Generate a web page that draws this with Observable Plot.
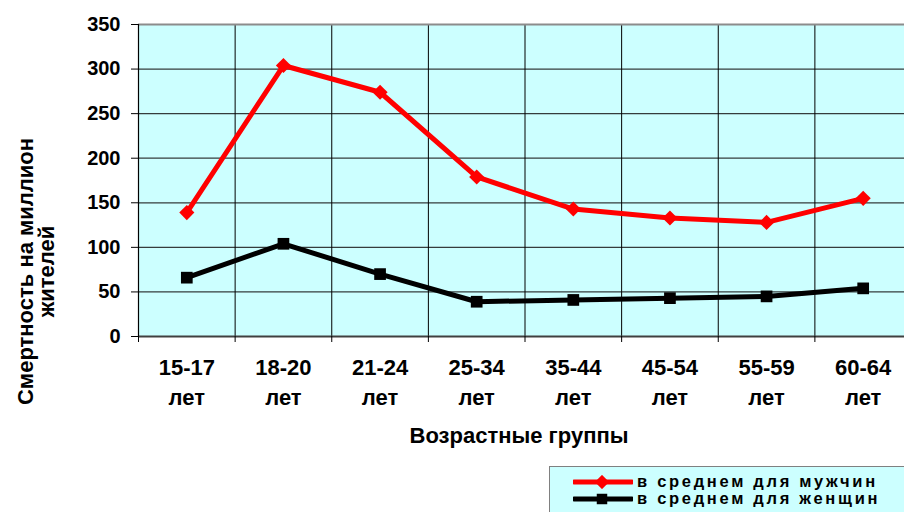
<!DOCTYPE html>
<html lang="ru">
<head>
<meta charset="utf-8">
<script src="https://cdn.jsdelivr.net/npm/d3@7"></script>
<script src="https://cdn.jsdelivr.net/npm/@observablehq/plot@0.6"></script>
<style>
  html, body { margin: 0; padding: 0; background: #fff; overflow: hidden; }
  body { width: 904px; height: 512px; font-family: Arial, "Liberation Sans", sans-serif; }
  #chart svg { display: block; }
  #legend {
    margin-left: 549px;
    margin-top: 2px;
    width: 380px;
    height: 60px;
    box-sizing: border-box;
    background: #ccffff;
    border: 1px solid #808080;
    padding: 6px 0 0 23px;
  }
  .item { display: flex; align-items: center; height: 17px; line-height: 17px; font-weight: bold; font-size: 16.5px; letter-spacing: 2.7px; color: #000; }
  .item svg { margin-right: 4px; flex: none; }
</style>
</head>
<body>
<div id="chart"></div>
<div id="legend"></div>
<script>
// Age groups and mortality per million residents
const ageGroups = ["15-17", "18-20", "21-24", "25-34", "35-44", "45-54", "55-59", "60-64"];
const ageUnit = "лет";
const menValues = [139, 304, 274, 179, 143, 133, 128, 155];
const womenValues = [66, 104, 70, 39, 41, 43, 45, 54];
const yTicks = [0, 50, 100, 150, 200, 250, 300, 350];
const seriesNames = ["в среднем для мужчин", "в среднем для женщин"];
const seriesColors = ["#ff0000", "#000000"];
const seriesSymbols = ["diamond2", "square"];

// Each group sits in the middle of its slot on a 0..N axis
const centers = ageGroups.map((_, i) => i + 0.5);
const bounds = d3.range(0, ageGroups.length + 1);
const rows = (values) => values.map((v, i) => ({x: i + 0.5, y: v}));
const men = rows(menValues);
const women = rows(womenValues);

const font = 'Arial, "Liberation Sans", sans-serif';

const chart = Plot.plot({
  width: 912,
  height: 464,
  marginLeft: 138,
  marginRight: 1,
  marginTop: 24,
  marginBottom: 128,
  style: {fontFamily: font, fontSize: "20px", fontWeight: "bold", color: "#000", maxWidth: "none", overflow: "visible"},
  x: {domain: [0, ageGroups.length], axis: null},
  y: {domain: [0, 350], axis: null},
  marks: [
    Plot.frame({fill: "#ccffff", stroke: null}),
    Plot.ruleY(yTicks.slice(1, -1), {stroke: "#1a1a1a", strokeWidth: 1.3, strokeOpacity: 0.85}),
    Plot.ruleX(bounds.slice(1, -1), {stroke: "#000", strokeWidth: 1}),
    Plot.ruleY([350], {stroke: "#8c8c8c", strokeWidth: 2}),
    Plot.ruleY([0], {stroke: "#404040", strokeWidth: 2}),
    Plot.ruleX([0], {stroke: "#000", strokeWidth: 1.2}),
    // y axis: ticks and labels
    Plot.axisY({ticks: yTicks, tickSize: 7, tickPadding: 11, tickFormat: d3.format("d"), fontSize: 20, fontWeight: "bold", label: null}),
    // x axis: tick marks at slot boundaries, labels in slot centers
    Plot.axisX({ticks: bounds, tickSize: 6, tickFormat: () => "", label: null}),
    Plot.axisX({ticks: centers, tickSize: 0, tickPadding: 17, lineHeight: 1.36,
      tickFormat: (d) => `${ageGroups[Math.round(d - 0.5)]}\n${ageUnit}`, fontSize: 22, fontWeight: "bold", label: null}),
    // series
    Plot.line(men, {x: "x", y: "y", stroke: seriesColors[0], strokeWidth: 5, strokeLinejoin: "round"}),
    Plot.dot(men, {x: "x", y: "y", symbol: seriesSymbols[0], r: 6.8, fill: seriesColors[0], stroke: null}),
    Plot.line(women, {x: "x", y: "y", stroke: seriesColors[1], strokeWidth: 5, strokeLinejoin: "round"}),
    Plot.dot(women, {x: "x", y: "y", symbol: seriesSymbols[1], r: 6.6, fill: seriesColors[1], stroke: null}),
    // axis titles
    Plot.text(["Возрастные группы"], {frameAnchor: "bottom", textAnchor: "middle", dx: -6, dy: 106, fontSize: 22, fontWeight: "bold"}),
    Plot.text(["Смертность на миллион\nжителей"], {frameAnchor: "left", textAnchor: "middle", rotate: -90, dx: -102, dy: 91, lineHeight: 0.98, fontSize: 22, fontWeight: "bold"})
  ]
});
document.getElementById("chart").append(chart);

// Legend below the chart
const legend = d3.select("#legend");
seriesNames.forEach((name, i) => {
  const item = legend.append("div").attr("class", "item");
  const sw = item.append("svg").attr("width", 60).attr("height", 14);
  sw.append("line").attr("x1", 1).attr("x2", 59).attr("y1", 7).attr("y2", 7)
    .attr("stroke", seriesColors[i]).attr("stroke-width", 5).attr("stroke-linecap", "round");
  const sym = seriesSymbols[i] === "square" ? d3.symbolSquare : d3.symbolDiamond2;
  sw.append("path").attr("transform", "translate(29,7)")
    .attr("d", d3.symbol(sym, i === 1 ? 110 : 130)())
    .attr("fill", seriesColors[i]);
  item.append("span").text(name);
});
</script>
</body>
</html>
